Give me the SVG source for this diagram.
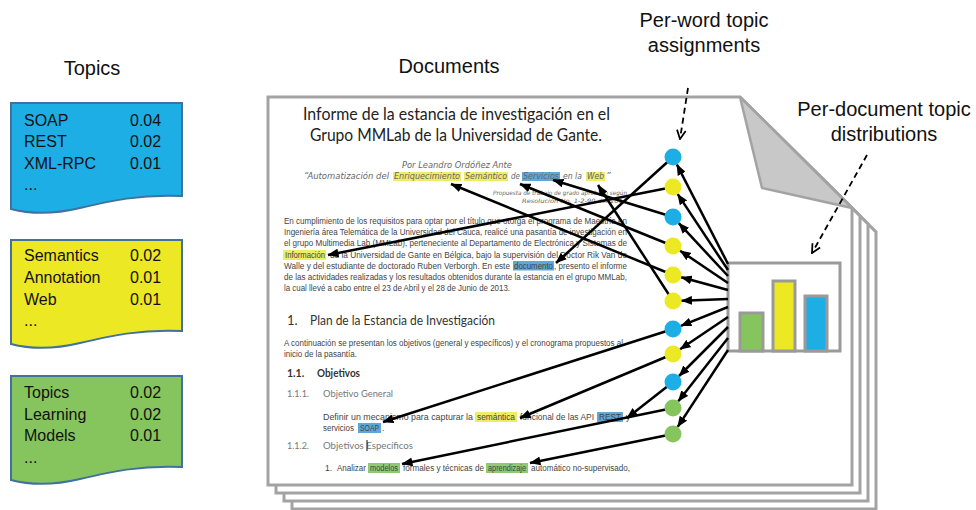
<svg xmlns="http://www.w3.org/2000/svg" width="976" height="510" viewBox="0 0 976 510">
<style>
.pg{fill:#fff;stroke:#a3a3a3;stroke-width:3}
.flap{fill:#c8c8c8;stroke:#a3a3a3;stroke-width:2.5;stroke-linejoin:round}
.lbl{font-family:"Liberation Sans",Arial,sans-serif;font-size:20px;fill:#111}
.card{stroke:#41719c;stroke-width:2}
.ct{font-family:"Liberation Sans",Arial,sans-serif;font-size:16px;fill:#111}
.ttl{font-family:Lato,"Liberation Sans",sans-serif;font-size:17px;fill:#222}
.sub{font-family:"DejaVu Sans",Verdana,sans-serif;font-style:italic;font-size:9px;fill:#666}
.sm{font-family:"DejaVu Sans",Verdana,sans-serif;font-style:italic;font-size:6px;fill:#666}
.bd{font-family:"Liberation Sans",Arial,sans-serif;font-size:8.5px;fill:#444}
.h1{font-family:Lato,"Liberation Sans",sans-serif;font-size:13px;fill:#333}
.h2{font-family:Lato,"Liberation Sans",sans-serif;font-size:10.5px;font-weight:bold;fill:#333}
.h3{font-family:Lato,"Liberation Sans",sans-serif;font-size:9.5px;fill:#777}
.hy{fill:#efec6a}.hb{fill:#5ea8d9}.hg{fill:#8fcb72}
.wa{stroke:#000;stroke-width:2.5;fill:none;marker-end:url(#ah)}
.da{stroke:#000;stroke-width:1.8;stroke-dasharray:6 4;fill:none;marker-end:url(#oh)}
.bar{stroke:#9a9a9a;stroke-width:3}
.db{fill:#1eaee6}.dy{fill:#ece823}.dg{fill:#86c45e}
</style>
<defs>
<marker id="ah" viewBox="0 0 10 8" refX="9.5" refY="4" markerWidth="11" markerHeight="9" markerUnits="userSpaceOnUse" orient="auto"><path d="M0,0 L10,4 L0,8 z" fill="#000"/></marker>
<marker id="oh" viewBox="0 0 10 10" refX="9" refY="5" markerWidth="11" markerHeight="11" markerUnits="userSpaceOnUse" orient="auto"><path d="M1,1 L9,5 L1,9" fill="none" stroke="#000" stroke-width="1.6"/></marker>
</defs>

<!-- labels -->
<g id="labels">
<text class="lbl" x="92" y="75" text-anchor="middle">Topics</text>
<text class="lbl" x="449" y="73" text-anchor="middle">Documents</text>
<text class="lbl" x="704" y="27" text-anchor="middle">Per-word topic</text>
<text class="lbl" x="704" y="52" text-anchor="middle">assignments</text>
<text class="lbl" x="884" y="116" text-anchor="middle">Per-document topic</text>
<text class="lbl" x="884" y="141" text-anchor="middle">distributions</text>
</g>

<!-- topic cards -->
<g id="topic-soap">
<path class="card" fill="#1eaee6" d="M11,103 H182 V196 C140,194 110,201 80,208 C55,214 30,214 11,209 Z"/>
<text class="ct" x="24" y="126">SOAP</text><text class="ct" x="130" y="126">0.04</text>
<text class="ct" x="24" y="147">REST</text><text class="ct" x="130" y="147">0.02</text>
<text class="ct" x="24" y="169">XML-RPC</text><text class="ct" x="130" y="169">0.01</text>
<text class="ct" x="24" y="190">...</text>
</g>
<g id="topic-semantics">
<path class="card" fill="#ece823" d="M11,240 H182 V331 C140,329 110,336 80,343 C55,349 30,349 11,344 Z"/>
<text class="ct" x="24" y="261">Semantics</text><text class="ct" x="130" y="261">0.02</text>
<text class="ct" x="24" y="283">Annotation</text><text class="ct" x="130" y="283">0.01</text>
<text class="ct" x="24" y="305">Web</text><text class="ct" x="130" y="305">0.01</text>
<text class="ct" x="24" y="326">...</text>
</g>
<g id="topic-learning">
<path class="card" fill="#86c45e" d="M11,376 H182 V467 C140,465 110,472 80,479 C55,485 30,485 11,480 Z"/>
<text class="ct" x="24" y="398">Topics</text><text class="ct" x="130" y="398">0.02</text>
<text class="ct" x="24" y="420">Learning</text><text class="ct" x="130" y="420">0.02</text>
<text class="ct" x="24" y="441">Models</text><text class="ct" x="130" y="441">0.01</text>
<text class="ct" x="24" y="463">...</text>
</g>

<!-- document stack -->
<g id="documents">
<polygon class="pg" points="292,509 876,509 876,232 764,121 292,121"/>
<polygon class="pg" points="284,501 868,501 868,224 756,113 284,113"/>
<polygon class="pg" points="276,493 860,493 860,216 748,105 276,105"/>
<polygon class="pg" points="268,485 852,485 852,208 740,97 268,97"/>
<polygon class="flap" points="740,97 762,188 852,208"/>

<text class="ttl" x="303" y="120" textLength="307" lengthAdjust="spacingAndGlyphs">Informe de la estancia de investigación en el</text>
<text class="ttl" x="310" y="141" textLength="292" lengthAdjust="spacingAndGlyphs">Grupo MMLab de la Universidad de Gante.</text>

<text class="sub" x="402" y="168" textLength="110" lengthAdjust="spacingAndGlyphs">Por Leandro Ordóñez Ante</text>
<rect class="hy" x="393" y="172" width="68" height="9"/>
<rect class="hy" x="464" y="172" width="44" height="9"/>
<rect class="hb" x="522" y="172" width="38" height="9"/>
<rect class="hy" x="586" y="172" width="19" height="9"/>
<text class="sub" x="304" y="179" textLength="85" lengthAdjust="spacingAndGlyphs">“Automatización del</text>
<text class="sub" x="394" y="179" textLength="66" lengthAdjust="spacingAndGlyphs">Enriquecimiento</text>
<text class="sub" x="465" y="179" textLength="42" lengthAdjust="spacingAndGlyphs">Semántico</text>
<text class="sub" x="511" y="179" textLength="9" lengthAdjust="spacingAndGlyphs">de</text>
<text class="sub" x="523" y="179" textLength="36" lengthAdjust="spacingAndGlyphs">Servicios</text>
<text class="sub" x="563" y="179" textLength="19" lengthAdjust="spacingAndGlyphs">en la</text>
<text class="sub" x="587" y="179" textLength="17" lengthAdjust="spacingAndGlyphs">Web</text>
<text class="sub" x="606" y="179">”</text>
<text class="sm" x="493" y="195" textLength="134" lengthAdjust="spacingAndGlyphs">Propuesta de trabajo de grado aprobado según</text>
<text class="sm" x="522" y="203" textLength="105" lengthAdjust="spacingAndGlyphs">Resolución No. 1-2-90 del 2012</text>

<rect class="hy" x="283" y="250" width="43" height="10"/>
<rect class="hb" x="513" y="261" width="41" height="9.5"/>
<text class="bd" x="284" y="224" textLength="343" lengthAdjust="spacingAndGlyphs">En cumplimiento de los requisitos para optar por el título que otorga el programa de Maestría en</text>
<text class="bd" x="284" y="235" textLength="343" lengthAdjust="spacingAndGlyphs">Ingeniería área Telemática de la Universidad del Cauca, realicé una pasantía de investigación en</text>
<text class="bd" x="284" y="246" textLength="343" lengthAdjust="spacingAndGlyphs">el grupo Multimedia Lab (MMLab), perteneciente al Departamento de Electrónica y Sistemas de</text>
<text class="bd" x="285" y="258" textLength="40" lengthAdjust="spacingAndGlyphs">Información</text>
<text class="bd" x="330" y="258" textLength="297" lengthAdjust="spacingAndGlyphs">de la Universidad de Gante en Bélgica, bajo la supervisión del Doctor Rik Van de</text>
<text class="bd" x="284" y="269" textLength="226" lengthAdjust="spacingAndGlyphs">Walle y del estudiante de doctorado Ruben Verborgh. En este</text>
<text class="bd" x="514" y="269" textLength="39" lengthAdjust="spacingAndGlyphs">documento</text>
<text class="bd" x="554" y="269" textLength="73" lengthAdjust="spacingAndGlyphs">, presento el informe</text>
<text class="bd" x="284" y="280" textLength="343" lengthAdjust="spacingAndGlyphs">de las actividades realizadas y los resultados obtenidos durante la estancia en el grupo MMLab,</text>
<text class="bd" x="284" y="291" textLength="226" lengthAdjust="spacingAndGlyphs">la cual llevé a cabo entre el 23 de Abril y el 28 de Junio de 2013.</text>

<text class="h1" x="287" y="325">1.</text>
<text class="h1" x="310" y="325" textLength="185" lengthAdjust="spacingAndGlyphs">Plan de la Estancia de Investigación</text>
<text class="bd" x="284" y="346" font-size="8" textLength="339" lengthAdjust="spacingAndGlyphs">A continuación se presentan los objetivos (general y específicos) y el cronograma propuestos al</text>
<text class="bd" x="284" y="357" font-size="8" textLength="73" lengthAdjust="spacingAndGlyphs">inicio de la pasantía.</text>
<text class="h2" x="287" y="377">1.1.</text>
<text class="h2" x="317" y="377" textLength="43" lengthAdjust="spacingAndGlyphs">Objetivos</text>
<text class="h3" x="287" y="397" textLength="22" lengthAdjust="spacingAndGlyphs">1.1.1.</text>
<text class="h3" x="323" y="397" textLength="70" lengthAdjust="spacingAndGlyphs">Objetivo General</text>

<rect class="hy" x="475" y="412" width="42" height="10"/>
<rect class="hb" x="597" y="412" width="26" height="10"/>
<rect class="hb" x="358" y="423" width="23" height="10"/>
<text class="bd" x="323" y="420" textLength="150" lengthAdjust="spacingAndGlyphs">Definir un mecanismo para capturar la</text>
<text class="bd" x="477" y="420" textLength="38" lengthAdjust="spacingAndGlyphs">semántica</text>
<text class="bd" x="520" y="420" textLength="74" lengthAdjust="spacingAndGlyphs">funcional de las API</text>
<text class="bd" x="599" y="420" textLength="22" lengthAdjust="spacingAndGlyphs">REST</text>
<text class="bd" x="626" y="420">y</text>
<text class="bd" x="323" y="431" textLength="31" lengthAdjust="spacingAndGlyphs">servicios</text>
<text class="bd" x="360" y="431" textLength="19" lengthAdjust="spacingAndGlyphs">SOAP</text>
<text class="bd" x="382" y="431">.</text>
<text class="h3" x="287" y="449" textLength="22" lengthAdjust="spacingAndGlyphs">1.1.2.</text>
<text class="h3" x="323" y="449" textLength="90" lengthAdjust="spacingAndGlyphs">Objetivos Específicos</text>
<line x1="367" y1="440" x2="367" y2="451" stroke="#111" stroke-width="1"/>

<rect class="hg" x="368" y="463" width="32" height="10"/>
<rect class="hg" x="486" y="463" width="42" height="10"/>
<text class="bd" x="325" y="471" fill="#5a3d7a">1.</text>
<text class="bd" x="337" y="471" textLength="29" lengthAdjust="spacingAndGlyphs">Analizar</text>
<text class="bd" x="370" y="471" textLength="28" lengthAdjust="spacingAndGlyphs">modelos</text>
<text class="bd" x="403" y="471" textLength="81" lengthAdjust="spacingAndGlyphs">formales y técnicas de</text>
<text class="bd" x="488" y="471" textLength="38" lengthAdjust="spacingAndGlyphs">aprendizaje</text>
<text class="bd" x="531" y="471" textLength="99" lengthAdjust="spacingAndGlyphs">automático no-supervisado,</text>
</g>

<!-- per-document chart -->
<g id="chart">
<rect x="728" y="263" width="112" height="88" fill="#fff" stroke="#9a9a9a" stroke-width="3"/>
<rect class="bar" x="740" y="313" width="23" height="38" fill="#86c45e"/>
<rect class="bar" x="773" y="281" width="22" height="70" fill="#ece823"/>
<rect class="bar" x="805" y="296" width="22" height="55" fill="#1eaee6"/>
</g>

<!-- connectors -->
<g id="connectors">
<line class="wa" x1="673" y1="157" x2="556" y2="263"/>
<line class="wa" x1="673" y1="187" x2="328" y2="255"/>
<line class="wa" x1="673" y1="217" x2="553" y2="180"/>
<line class="wa" x1="673" y1="246" x2="520" y2="184"/>
<line class="wa" x1="673" y1="275" x2="451" y2="184"/>
<line class="wa" x1="673" y1="301" x2="598" y2="185"/>
<line class="wa" x1="673" y1="329" x2="383" y2="422"/>
<line class="wa" x1="673" y1="354" x2="520" y2="418"/>
<line class="wa" x1="673" y1="382" x2="627" y2="418"/>
<line class="wa" x1="673" y1="408" x2="402" y2="464"/>
<line class="wa" x1="673" y1="434" x2="530" y2="463"/>

<line class="wa" x1="728" y1="264" x2="676.9" y2="164.6"/>
<line class="wa" x1="728" y1="270" x2="677.7" y2="194.1"/>
<line class="wa" x1="728" y1="276" x2="678.8" y2="223.2"/>
<line class="wa" x1="728" y1="283" x2="680.1" y2="250.7"/>
<line class="wa" x1="728" y1="290" x2="681.2" y2="277.2"/>
<line class="wa" x1="728" y1="299" x2="681.5" y2="300.7"/>
<line class="wa" x1="728" y1="307" x2="680.9" y2="325.8"/>
<line class="wa" x1="728" y1="317" x2="680.1" y2="349.3"/>
<line class="wa" x1="728" y1="327" x2="679.0" y2="376.0"/>
<line class="wa" x1="728" y1="338" x2="678.3" y2="401.3"/>
<line class="wa" x1="728" y1="350" x2="677.7" y2="426.9"/>

<line class="da" x1="688" y1="88" x2="680" y2="139"/>
<line class="da" x1="867" y1="155" x2="812" y2="253"/>
</g>

<!-- per-word topic assignment dots -->
<g id="word-topics">
<circle class="db" cx="673" cy="157" r="8.5"/>
<circle class="dy" cx="673" cy="187" r="8.5"/>
<circle class="db" cx="673" cy="217" r="8.5"/>
<circle class="dy" cx="673" cy="246" r="8.5"/>
<circle class="dy" cx="673" cy="275" r="8.5"/>
<circle class="dy" cx="673" cy="301" r="8.5"/>
<circle class="db" cx="673" cy="329" r="8.5"/>
<circle class="dy" cx="673" cy="354" r="8.5"/>
<circle class="db" cx="673" cy="382" r="8.5"/>
<circle class="dg" cx="673" cy="408" r="8.5"/>
<circle class="dg" cx="673" cy="434" r="8.5"/>
</g>
</svg>
